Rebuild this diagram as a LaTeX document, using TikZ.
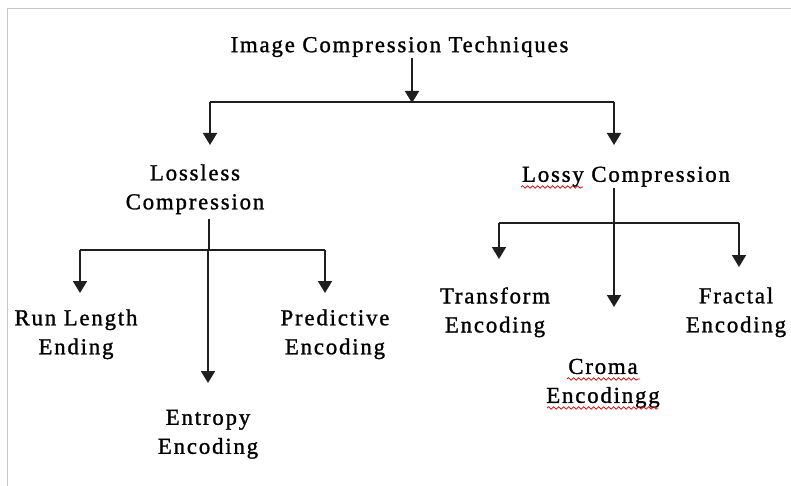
\documentclass[tikz,border=0pt]{standalone}
\usepackage{fontspec}
\setmainfont{Liberation Serif}[LetterSpace=8,FakeBold=1.2]
\usetikzlibrary{arrows.meta,decorations.pathmorphing}
\begin{document}
\begin{tikzpicture}[x=1pt,y=-1pt,
  lbl/.style={inner sep=0pt,align=center,font=\fontsize{22.8}{29}\selectfont},
  conn/.style={line width=1.8pt,draw=black!88},
  arr/.style={conn,-{Triangle[width=14pt,length=12pt]}},
  spell/.style={draw=red!85!black,line width=0.7pt,decorate,decoration={snake,segment length=5pt,amplitude=1.3pt}}]
\useasboundingbox (0,0) rectangle (791,486);
\fill[white] (0,0) rectangle (791,486);
\draw[black!22,line width=0.9pt] (7,486) -- (7,8) -- (791,8);

% nodes
\node[lbl] (title) at (399.5,46.7) {Image Compression Techniques};
\node[lbl] (lossless) at (195,189.3) {Lossless\\Compression};
\node[lbl] (lossy) at (626,176.7) {Lossy Compression};
\node[lbl] (rle) at (76,334.3) {Run Length\\Ending};
\node[lbl] (entropy) at (208,434.3) {Entropy\\Encoding};
\node[lbl] (pred) at (335,334.3) {Predictive\\Encoding};
\node[lbl] (transform) at (495,312.3) {Transform\\Encoding};
\node[lbl] (croma) at (603,383.3) {Croma\\Encodingg};
\node[lbl] (fractal) at (736,312.3) {Fractal\\Encoding};

% junction coordinates
\coordinate (t0) at (412,58);
\coordinate (tj) at (412,103);
\coordinate (tl) at (210,102);
\coordinate (tr) at (614,102);
\coordinate (tle) at (210,145);
\coordinate (tre) at (614,145);

\coordinate (l0) at (209,219);
\coordinate (lj) at (209,250);
\coordinate (ll) at (80,250);
\coordinate (lr) at (325,250);
\coordinate (lm) at (208,250);
\coordinate (lle) at (80,293);
\coordinate (lre) at (325,293);
\coordinate (lme) at (208,383);

\coordinate (r0) at (614,188);
\coordinate (rj) at (614,223);
\coordinate (rl) at (499,223);
\coordinate (rr) at (739,223);
\coordinate (rme) at (614,307);
\coordinate (rle) at (499,259);
\coordinate (rre) at (739,267);

% connectors: top level
\draw[arr] (t0) -- (tj);
\draw[conn] (tl) -- (tr);
\draw[arr] (tl) -- (tle);
\draw[arr] (tr) -- (tre);

% lossless
\draw[conn] (l0) -- (lj);
\draw[conn] (ll) -- (lr);
\draw[arr] (ll) -- (lle);
\draw[arr] (lr) -- (lre);
\draw[arr] (lm) -- (lme);

% lossy
\draw[arr] (r0) -- (rme);
\draw[conn] (rl) -- (rr);
\draw[arr] (rl) -- (rle);
\draw[arr] (rr) -- (rre);

% spell-check underlines
\draw[spell] (521,187) -- (583,187);
\draw[spell] (567,379) -- (640,379);
\draw[spell] (547,408) -- (658,408);
\end{tikzpicture}
\end{document}
